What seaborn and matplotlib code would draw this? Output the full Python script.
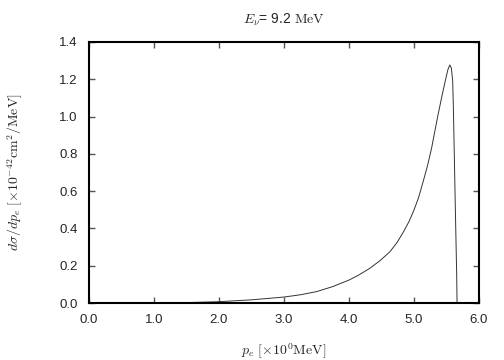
import matplotlib
matplotlib.use("Agg")
import matplotlib.pyplot as plt
import seaborn as sns
import pandas as pd

p_e = [0.0, 1.3, 1.5, 2.0, 2.5, 3.0, 3.25, 3.5, 3.75, 4.0, 4.15, 4.32, 4.48, 4.63, 4.74,
       4.84, 4.92, 4.99, 5.07, 5.14, 5.21, 5.27, 5.32, 5.37, 5.43, 5.48, 5.52, 5.55,
       5.575, 5.595, 5.605, 5.615, 5.635, 5.648, 5.657, 5.662]
dsigma = [0.0, 0.0, 0.002, 0.007, 0.017, 0.032, 0.044, 0.061, 0.088, 0.123, 0.15, 0.186,
          0.228, 0.275, 0.325, 0.383, 0.435, 0.49, 0.565, 0.65, 0.74, 0.83, 0.92, 1.01,
          1.11, 1.19, 1.25, 1.277, 1.26, 1.19, 1.06, 0.885, 0.525, 0.30, 0.15, 0.0]
x_ticks = [0.0, 1.0, 2.0, 3.0, 4.0, 5.0, 6.0]
y_ticks = [0.0, 0.2, 0.4, 0.6, 0.8, 1.0, 1.2, 1.4]

sns.set_style("ticks")
plt.rcParams['font.family'] = ['Liberation Sans', 'DejaVu Sans']
plt.rcParams['mathtext.fontset'] = 'cm'

df = pd.DataFrame({"p": p_e, "s": dsigma})
fig = plt.figure(figsize=(5.04, 3.6), dpi=100)
ax = fig.add_axes([89/504, 57/360, 390/504, 261/360])
sns.lineplot(data=df, x="p", y="s", ax=ax, color="#333333", linewidth=0.7, sort=False)

ax.set_xlim(0, 6)
ax.set_ylim(0, 1.4)
ax.set_xticks(x_ticks)
ax.set_xticklabels([f"{v:.1f}" for v in x_ticks])
ax.set_yticks(y_ticks)
ax.set_yticklabels([f"{v:.1f}" for v in y_ticks])
ax.tick_params(direction="in", length=4, width=1, top=True, right=True, labelsize=9.5, pad=8,
               color="#555555")
for s in ax.spines.values():
    s.set_linewidth(1.5)
    s.set_color("black")

ax.set_xlabel(r"$p_e\ [\times10^{0}\mathrm{MeV}]$", fontsize=10, labelpad=11)
ax.set_ylabel(r"$d\sigma/dp_e\ [\times10^{-42}\mathrm{cm}^{2}/\mathrm{MeV}]$", fontsize=10, labelpad=25)
ax.set_title(r"$E_\nu$= 9.2 $\mathrm{MeV}$", fontsize=10, pad=13)

fig.savefig("out.png", dpi=100)
